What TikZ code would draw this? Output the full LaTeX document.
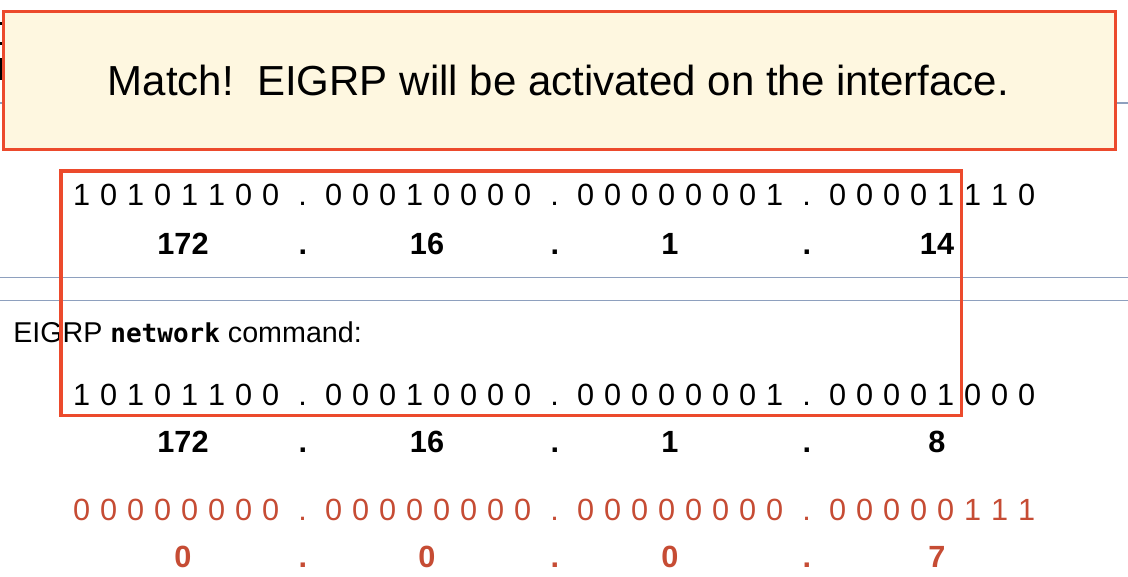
\documentclass[tikz,border=0pt]{standalone}
\usepackage{fontspec}
\setmainfont{Liberation Sans}
\newfontfamily\monob{DejaVu Sans Mono}
\definecolor{boxred}{RGB}{236,74,44}
\definecolor{cream}{RGB}{254,247,224}
\definecolor{rulegray}{RGB}{142,160,190}
\definecolor{maskred}{RGB}{198,76,52}
\newcommand\bitrow[4]{%
  \foreach \bt [count=\i from 0] in {#4}{%
    \pgfmathsetmacro\xx{81.7+int(\i/8)*252+mod(\i,8)*27}%
    \node[#3] (#2\i) at (\xx,#1) {\bt};
  }%
  \foreach \k in {0,1,2}{%
    \node[#3] (#2dot\k) at ({302.7+\k*252},#1) {.};
  }%
}
\tikzset{
  bit/.style={font=\fontsize{23}{27}\selectfont, anchor=base, inner sep=0pt},
  dec/.style={font=\fontsize{23}{27}\selectfont\bfseries, anchor=base, inner sep=0pt},
  rbit/.style={bit, text=maskred},
  rdec/.style={dec, text=maskred},
  rulel/.style={draw=rulegray, line width=1pt},
  hl/.style={draw=boxred, line width=2.6pt},
  msgbox/.style={draw=boxred, fill=cream, line width=2.25pt, inner sep=0pt,
    minimum width=834pt, minimum height=103.5pt}
}
\begin{document}
\begin{tikzpicture}[x=0.75pt,y=-0.75pt]
\useasboundingbox (0,0) rectangle (1128,577);
\fill[white] (0,0) rectangle (1128,577);
% background remnants
\coordinate (gl0) at (0,103); \coordinate (gl1) at (1128,103);
\draw[rulel] (gl0) -- (gl1);
\fill[black] (0,22.5) rectangle (2.3,25);
\fill[black] (0,42.5) rectangle (2.3,45);
\fill[black] (0,58) rectangle (2.3,80);
% rules
\coordinate (ra0) at (0,277.3); \coordinate (ra1) at (1128,277.3);
\coordinate (rb0) at (0,300.7); \coordinate (rb1) at (1128,300.7);
\draw[rulel] (ra0) -- (ra1);
\draw[rulel] (rb0) -- (rb1);
% message box
\node[msgbox] (msg) at (559.5,80.5) {};
\node[anchor=base, inner sep=0pt, font=\fontsize{31.5}{36}\selectfont] (msgtxt) at (558.5,96)
  {\frenchspacing Match!\ \ EIGRP will be activated on the interface.};
% row 1: interface address
\bitrow{206}{a}{bit}{1,0,1,0,1,1,0,0,0,0,0,1,0,0,0,0,0,0,0,0,0,0,0,1,0,0,0,0,1,1,1,0}
\node[dec] (a172) at (183,255) {172};
\node[dec] (ap1) at (303,255) {.};
\node[dec] (a16) at (427,255) {16};
\node[dec] (ap2) at (555,255) {.};
\node[dec] (a1) at (670,255) {1};
\node[dec] (ap3) at (807,255) {.};
\node[dec] (a14) at (937,255) {14};
% network command label
\node[anchor=base west, inner sep=0pt, font=\fontsize{21.5}{25}\selectfont] (cmd) at (13,343)
  {EIGRP {\monob\bfseries\fontsize{19.5}{25}\selectfont network} command:};
% row 2: network address
\bitrow{405}{b}{bit}{1,0,1,0,1,1,0,0,0,0,0,1,0,0,0,0,0,0,0,0,0,0,0,1,0,0,0,0,1,0,0,0}
\node[dec] (b172) at (183,452) {172};
\node[dec] (bp1) at (303,452) {.};
\node[dec] (b16) at (427,452) {16};
\node[dec] (bp2) at (555,452) {.};
\node[dec] (b1) at (670,452) {1};
\node[dec] (bp3) at (807,452) {.};
\node[dec] (b8) at (937,452) {8};
% row 3: wildcard mask
\bitrow{520}{c}{rbit}{0,0,0,0,0,0,0,0,0,0,0,0,0,0,0,0,0,0,0,0,0,0,0,0,0,0,0,0,0,1,1,1}
\node[rdec] (c0a) at (183,567) {0};
\node[rdec] (cp1) at (303,567) {.};
\node[rdec] (c0b) at (427,567) {0};
\node[rdec] (cp2) at (555,567) {.};
\node[rdec] (c0c) at (670,567) {0};
\node[rdec] (cp3) at (807,567) {.};
\node[rdec] (c7) at (937,567) {7};
% highlight
\coordinate (h0) at (61,171); \coordinate (h1) at (961.5,415.5);
\draw[hl] (h0) rectangle (h1);
\end{tikzpicture}
\end{document}
